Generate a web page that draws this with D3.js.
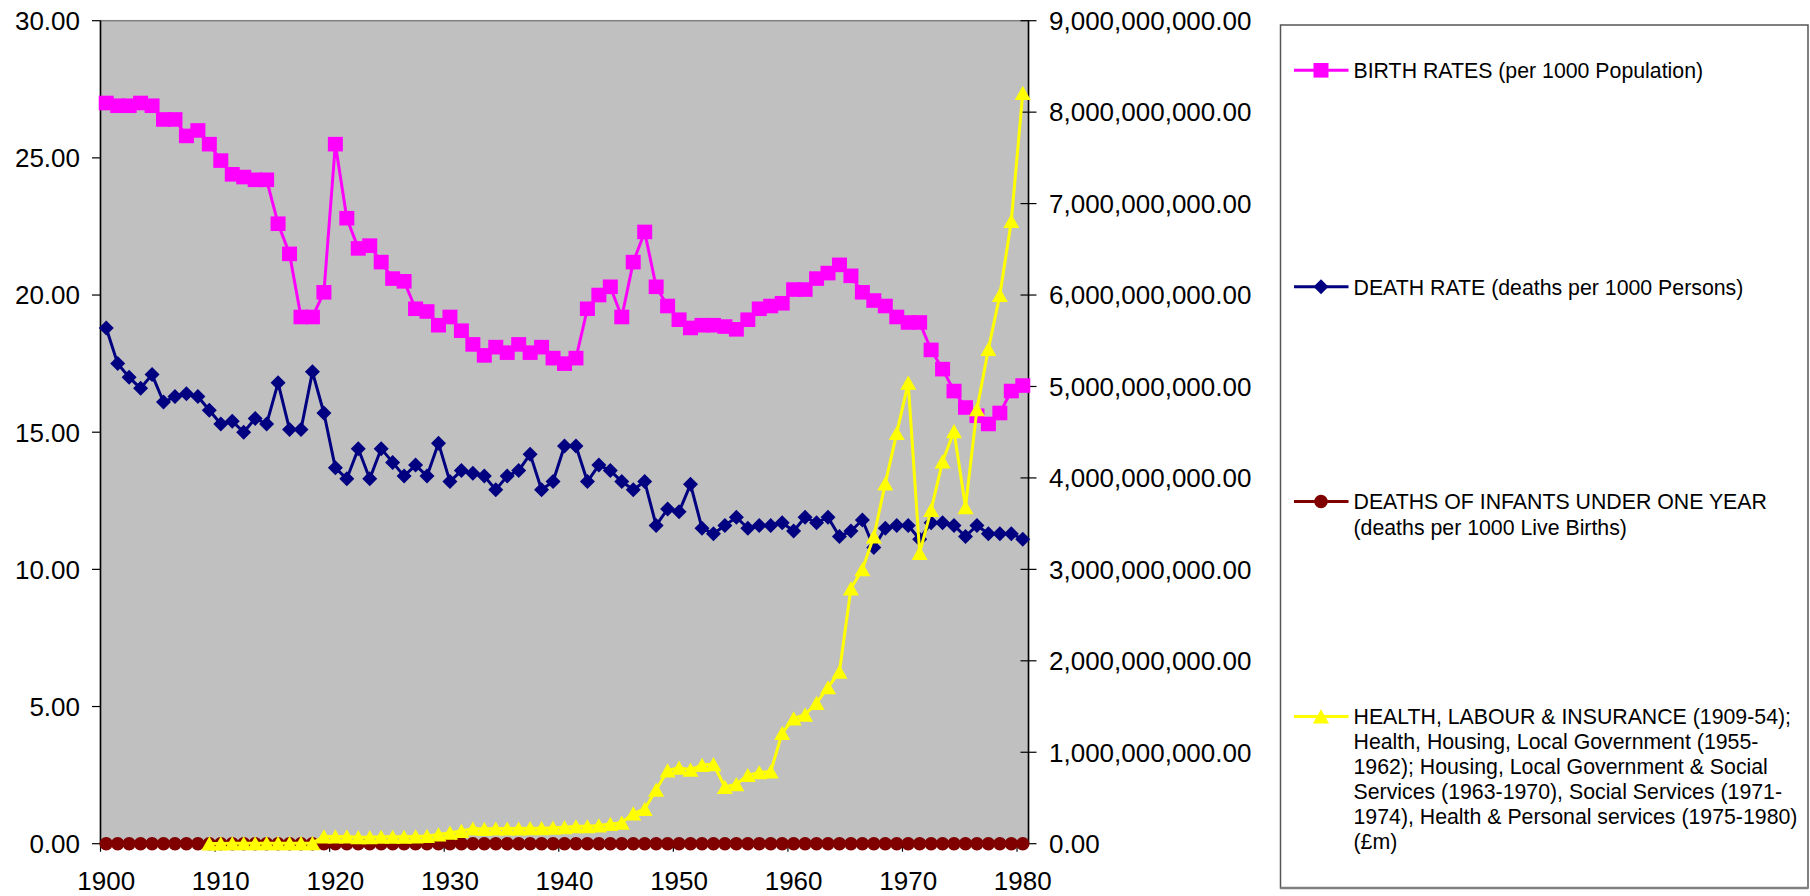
<!DOCTYPE html>
<html>
<head>
<meta charset="utf-8">
<script src="https://cdn.jsdelivr.net/npm/d3@7"></script>
<style>
  html, body { margin: 0; padding: 0; background: #fff; }
  svg { display: block; }
  text { font-family: "Liberation Sans", Arial, sans-serif; }
</style>
</head>
<body>
<svg id="chart" width="1810" height="896"></svg>
<script>
// ---------- DATA ----------
const years = [1900,1901,1902,1903,1904,1905,1906,1907,1908,1909,
  1910,1911,1912,1913,1914,1915,1916,1917,1918,1919,
  1920,1921,1922,1923,1924,1925,1926,1927,1928,1929,
  1930,1931,1932,1933,1934,1935,1936,1937,1938,1939,
  1940,1941,1942,1943,1944,1945,1946,1947,1948,1949,
  1950,1951,1952,1953,1954,1955,1956,1957,1958,1959,
  1960,1961,1962,1963,1964,1965,1966,1967,1968,1969,
  1970,1971,1972,1973,1974,1975,1976,1977,1978,1979,1980];

const birthRates = [27.0,26.9,26.9,27.0,26.9,26.4,26.4,25.8,26.0,25.5,
  24.9,24.4,24.3,24.2,24.2,22.6,21.5,19.2,19.2,20.1,
  25.5,22.8,21.7,21.8,21.2,20.6,20.5,19.5,19.4,18.9,
  19.2,18.7,18.2,17.8,18.1,17.9,18.2,17.9,18.1,17.7,
  17.5,17.7,19.5,20.0,20.3,19.2,21.2,22.3,20.3,19.6,
  19.1,18.8,18.9,18.9,18.85,18.75,19.1,19.5,19.6,19.7,
  20.2,20.2,20.6,20.8,21.1,20.7,20.1,19.8,19.6,19.2,
  19.0,19.0,18.0,17.3,16.5,15.9,15.6,15.3,15.7,16.5,16.7];

const deathRates = [18.8,17.5,17.0,16.6,17.1,16.1,16.3,16.4,16.3,15.8,
  15.3,15.4,15.0,15.5,15.3,16.8,15.1,15.1,17.2,15.7,
  13.7,13.3,14.4,13.3,14.4,13.9,13.4,13.8,13.4,14.6,
  13.2,13.6,13.5,13.4,12.9,13.4,13.6,14.2,12.9,13.2,
  14.5,14.5,13.2,13.8,13.6,13.2,12.9,13.2,11.6,12.2,
  12.1,13.1,11.5,11.3,11.6,11.9,11.5,11.6,11.6,11.7,
  11.4,11.9,11.7,11.9,11.2,11.4,11.8,10.8,11.5,11.6,
  11.6,11.1,11.7,11.7,11.6,11.2,11.6,11.3,11.3,11.3,11.1];

// every point sits on the zero line
const infantDeaths = [0,0,0,0,0,0,0,0,0,0,
  0,0,0,0,0,0,0,0,0,0,
  0,0,0,0,0,0,0,0,0,0,
  0,0,0,0,0,0,0,0,0,0,
  0,0,0,0,0,0,0,0,0,0,
  0,0,0,0,0,0,0,0,0,0,
  0,0,0,0,0,0,0,0,0,0,
  0,0,0,0,0,0,0,0,0,0,0];

// spending in £ millions (null = no data, series starts 1909)
const healthSpendingM = [null,null,null,null,null,null,null,null,null,3,
  3,4,4,4,5,5,5,5,6,80,
  80,80,70,70,75,75,75,80,85,100,
  120,140,165,160,165,165,165,170,170,175,
  180,190,190,200,215,230,330,380,590,800,
  830,810,860,870,620,650,750,780,790,1210,
  1370,1410,1540,1710,1880,2790,3000,3360,3940,4490,
  5040,3180,3650,4180,4510,3680,4750,5410,6000,6810,8210];

const leftTicks = [0,5,10,15,20,25,30];
const rightTicks = [0,1e9,2e9,3e9,4e9,5e9,6e9,7e9,8e9,9e9];
const xTickYears = [1900,1910,1920,1930,1940,1950,1960,1970,1980];

const legendItems = [
  {lines:["BIRTH RATES (per 1000 Population)"]},
  {lines:["DEATH RATE (deaths per 1000 Persons)"]},
  {lines:["DEATHS OF INFANTS UNDER ONE YEAR","(deaths per 1000 Live Births)"]},
  {lines:["HEALTH, LABOUR & INSURANCE (1909-54);",
          "Health, Housing, Local Government (1955-",
          "1962); Housing, Local Government & Social",
          "Services (1963-1970), Social Services (1971-",
          "1974), Health & Personal services (1975-1980)",
          "(£m)"]}
];

// ---------- LAYOUT ----------
const svg = d3.select("#chart");
const L = 100.5, R = 1028.5, T = 20.7, B = 843.7;
const axisFont = 26, legendFont = 21.3;

const x = d3.scalePoint().domain(years).range([L, R]).padding(0.5);
const step = x.step();
const yL = d3.scaleLinear().domain([0, 30]).range([B, T]);
const yR = d3.scaleLinear().domain([0, 9e9]).range([B, T]);

svg.append("rect").attr("width",1810).attr("height",896).attr("fill","#fff");

// plot area
svg.append("rect").attr("x",L).attr("y",T).attr("width",R-L).attr("height",B-T)
  .attr("fill","#C0C0C0").attr("stroke","#808080").attr("stroke-width",1.5);

// axes
const axisG = svg.append("g");
axisG.append("line").attr("x1",L).attr("x2",L).attr("y1",T).attr("y2",B).attr("stroke","#000").attr("stroke-width",1.5);
axisG.append("line").attr("x1",R).attr("x2",R).attr("y1",T).attr("y2",B).attr("stroke","#000").attr("stroke-width",1.5);
axisG.append("line").attr("x1",L).attr("x2",R).attr("y1",B).attr("y2",B).attr("stroke","#000").attr("stroke-width",1.5);

const capOff = 0.358 * axisFont;
// left ticks
leftTicks.forEach(v => {
  axisG.append("line").attr("x1",L-8.5).attr("x2",L).attr("y1",yL(v)).attr("y2",yL(v)).attr("stroke","#000").attr("stroke-width",1.2);
  axisG.append("text").attr("x",80).attr("y",yL(v)+capOff).attr("text-anchor","end")
    .attr("font-size",axisFont).attr("fill","#000").text(d3.format(".2f")(v));
});
// right ticks
rightTicks.forEach(v => {
  axisG.append("line").attr("x1",R-8).attr("x2",R+8).attr("y1",yR(v)).attr("y2",yR(v)).attr("stroke","#000").attr("stroke-width",1.2);
  axisG.append("text").attr("x",1049).attr("y",yR(v)+capOff).attr("text-anchor","start")
    .attr("font-size",axisFont).attr("fill","#000").text(d3.format(",.2f")(v));
});
// x ticks (category boundaries) and labels
xTickYears.forEach(yr => {
  const bx = x(yr) - step/2;
  axisG.append("line").attr("x1",bx).attr("x2",bx).attr("y1",B).attr("y2",B+8).attr("stroke","#000").attr("stroke-width",1.2);
  axisG.append("text").attr("x",x(yr)).attr("y",890).attr("text-anchor","middle")
    .attr("font-size",axisFont).attr("fill","#000").text(yr);
});

// ---------- SERIES ----------
const markers = {
  square: "M-7.5,-7.3H7.5V7.3H-7.5Z",
  diamond: "M0,-7.5L7.5,0L0,7.5L-7.5,0Z",
  circle: d3.symbol().type(d3.symbolCircle).size(Math.PI*6.8*6.8)(),
  triangle: "M0,-7.2L8,7L-8,7Z"
};

const series = [
  {vals: birthRates, scale: v => yL(v), color:"#FF00FF", marker:"square"},
  {vals: deathRates, scale: v => yL(v), color:"#000080", marker:"diamond"},
  {vals: infantDeaths, scale: v => yL(v), color:"#800000", marker:"circle"},
  {vals: healthSpendingM, scale: v => yR(v*1e6), color:"#FFFF00", marker:"triangle"}
];

series.forEach(s => {
  const pts = years.map((yr,i) => ({yr, v: s.vals[i]})).filter(d => d.v !== null);
  const g = svg.append("g");
  g.append("path").datum(pts)
    .attr("d", d3.line().x(d => x(d.yr)).y(d => s.scale(d.v)))
    .attr("fill","none").attr("stroke",s.color).attr("stroke-width",3).attr("stroke-linejoin","round");
  g.selectAll("path.m").data(pts).join("path").attr("class","m")
    .attr("d", markers[s.marker])
    .attr("transform", d => `translate(${x(d.yr)},${s.scale(d.v)})`)
    .attr("fill", s.color);
});

// ---------- LEGEND ----------
const lg = svg.append("g");
lg.append("rect").attr("x",1280.5).attr("y",25).attr("width",1808-1280.5).attr("height",888-25)
  .attr("fill","#fff").attr("stroke","#555").attr("stroke-width",1.5);
lg.append("line").attr("x1",1280.5).attr("x2",1808).attr("y1",888).attr("y2",888).attr("stroke","#808080").attr("stroke-width",2.5);

const legendY = [70.3, 286.7, 501.5, 716.5];
const lineGap = [0, 0, 25.3, 25];
legendItems.forEach((item, i) => {
  const s = series[i];
  const cy = legendY[i];
  lg.append("line").attr("x1",1294).attr("x2",1348.5).attr("y1",cy).attr("y2",cy)
    .attr("stroke",s.color).attr("stroke-width",3);
  lg.append("path").attr("d",markers[s.marker]).attr("transform",`translate(1321,${cy})`).attr("fill",s.color);
  item.lines.forEach((t, j) => {
    lg.append("text").attr("x",1353.5).attr("y",cy + 0.37*legendFont + j*lineGap[i])
      .attr("font-size",legendFont).attr("fill","#000").text(t);
  });
});
</script>
</body>
</html>
